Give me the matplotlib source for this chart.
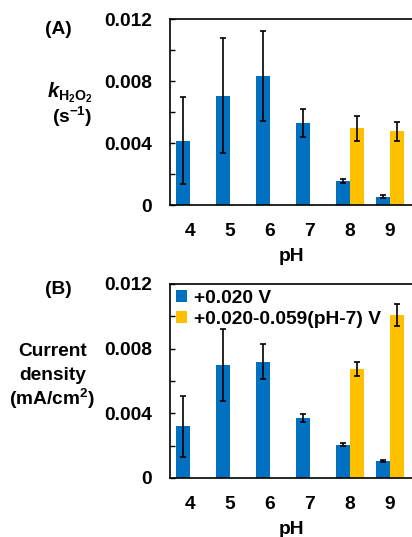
import matplotlib
matplotlib.use("Agg")
import matplotlib.pyplot as plt
import numpy as np

plt.rcParams['font.family'] = ['Liberation Sans', 'DejaVu Sans']
plt.rcParams['font.weight'] = 'bold'
plt.rcParams['mathtext.fontset'] = 'custom'
plt.rcParams['mathtext.rm'] = 'Liberation Sans:bold'
plt.rcParams['mathtext.it'] = 'Liberation Sans:bold:italic'
plt.rcParams['mathtext.bf'] = 'Liberation Sans:bold'

ph = [4, 5, 6, 7, 8, 9]
series_names = ['+0.020 V', '+0.020-0.059(pH-7) V']

# Panel A: k_H2O2 (s^-1)
kA_blue = [0.00415, 0.00705, 0.00832, 0.00527, 0.00155, 0.00052]
kA_blue_err = [0.0028, 0.0037, 0.0029, 0.0009, 0.0001, 0.0001]
kA_yellow = [np.nan, np.nan, np.nan, np.nan, 0.00495, 0.00475]
kA_yellow_err = [np.nan, np.nan, np.nan, np.nan, 0.0008, 0.0006]

# Panel B: current density (mA/cm^2)
jB_blue = [0.00319, 0.00699, 0.00720, 0.00372, 0.00207, 0.00105]
jB_blue_err = [0.0019, 0.0022, 0.0011, 0.00026, 0.0001, 0.00005]
jB_yellow = [np.nan, np.nan, np.nan, np.nan, 0.00675, 0.01008]
jB_yellow_err = [np.nan, np.nan, np.nan, np.nan, 0.00045, 0.0007]

yticks = [0, 0.004, 0.008, 0.012]
yticklabels = ['0', '0.004', '0.008', '0.012']

BLUE = '#0070C0'
YELLOW = '#FFC000'
FS = 13.8
W, H = 412, 537
fig = plt.figure(figsize=(W / 100, H / 100), dpi=100)

def make_axes(top, bottom):
    left = 170 / W
    right = 1.0
    return fig.add_axes([left, 1 - bottom / H, right - left, (bottom - top) / H])

axA = make_axes(19, 205)
axB = make_axes(284, 478)

x = np.array(ph, dtype=float)
bw = 0.35

def draw(ax, b, be, yv, ye):
    ax.bar(x - bw / 2, b, bw, color=BLUE, label=series_names[0], zorder=2)
    ax.bar(x + bw / 2, yv, bw, color=YELLOW, label=series_names[1], zorder=2)
    ax.errorbar(x - bw / 2, b, yerr=be, fmt='none', ecolor='black',
                elinewidth=1.2, capsize=2, capthick=1.2, zorder=3)
    ax.errorbar(x + bw / 2, yv, yerr=ye, fmt='none', ecolor='black',
                elinewidth=1.2, capsize=2, capthick=1.2, zorder=3)
    ax.set_xlim(3.5, 9.55)
    ax.set_ylim(0, 0.012)
    ax.set_xticks(ph)
    ax.set_xticklabels([str(p) for p in ph], fontsize=FS, fontweight='bold')
    ax.tick_params(axis='x', length=0, pad=13)
    ax.set_yticks(yticks)
    ax.set_yticklabels(yticklabels, fontsize=FS, fontweight='bold')
    ax.set_yticks([0.002, 0.006, 0.010], minor=True)
    ax.tick_params(axis='y', which='both', direction='in', length=3.5, width=1, pad=13)
    ax.spines['right'].set_visible(False)
    for s in ['left', 'top', 'bottom']:
        ax.spines[s].set_linewidth(1.2)
    ax.set_xlabel('pH', fontsize=FS, fontweight='bold', labelpad=6)

draw(axA, kA_blue, kA_blue_err, kA_yellow, kA_yellow_err)
draw(axB, jB_blue, jB_blue_err, jB_yellow, jB_yellow_err)

leg = axB.legend(loc='upper left', frameon=False, fontsize=FS,
                 handlelength=0.6, handleheight=0.6, handletextpad=0.35,
                 borderaxespad=0.15, labelspacing=0.2, borderpad=0.15)
for t in leg.get_texts():
    t.set_fontweight('bold')

fig.text(58 / W, 1 - 30 / H, '(A)', fontsize=FS, fontweight='bold', ha='center', va='center')
fig.text(58 / W, 1 - 290 / H, '(B)', fontsize=FS, fontweight='bold', ha='center', va='center')

fig.text(70 / W, 1 - 93 / H, r'$k_{\mathrm{H_2O_2}}$', fontsize=14.5, ha='center', va='center')
fig.text(72 / W, 1 - 117 / H, r'(s$^{\mathrm{-1}}$)', fontsize=FS, fontweight='bold', ha='center', va='center')

fig.text(53 / W, 1 - 351 / H, 'Current', fontsize=FS, fontweight='bold', ha='center', va='center')
fig.text(53 / W, 1 - 376 / H, 'density', fontsize=FS, fontweight='bold', ha='center', va='center')
fig.text(52 / W, 1 - 399 / H, r'(mA/cm$^{\mathrm{2}}$)', fontsize=FS, fontweight='bold', ha='center', va='center')

fig.savefig('out.png', dpi=100)
